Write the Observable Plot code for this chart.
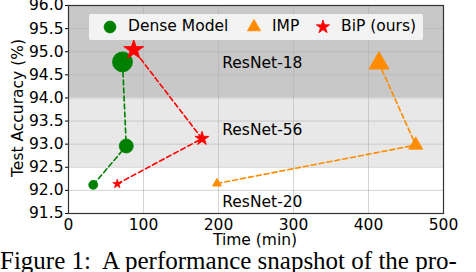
<!DOCTYPE html>
<html>
<head>
<meta charset="utf-8">
<script src="https://cdn.jsdelivr.net/npm/d3@7"></script>
<script src="https://cdn.jsdelivr.net/npm/@observablehq/plot@0.6"></script>
<style>
  html, body { margin: 0; padding: 0; background: #fff; }
  #wrap { position: relative; width: 476px; height: 272px; overflow: hidden; }
  #legend { position: absolute; left: 89px; top: 14px; width: 334px; height: 26px;
    background: rgba(245,245,245,0.95); border-radius: 2px;
    font: 15.5px "DejaVu Sans", sans-serif; color: #000; }
  #legend .item { position: absolute; top: 3px; white-space: nowrap; }
  #legend svg { position: absolute; top: 0; left: 0; }
  #caption { position: absolute; left: 0; top: 247px; line-height: 1; font: 25px "Liberation Serif", "Times New Roman", serif; white-space: nowrap; color: #000; }
</style>
</head>
<body>
<div id="wrap"></div>
<script>
// Data
const models = ["Dense Model", "IMP", "BiP (ours)"];
const archs = ["ResNet-20", "ResNet-56", "ResNet-18"];
const denseTime = [33, 77, 72];
const denseAcc = [92.12, 92.96, 94.78];
const impTime = [198, 463, 414];
const impAcc = [92.15, 92.98, 94.75];
const bipTime = [65, 178, 87];
const bipAcc = [92.14, 93.12, 95.04];
// Architecture accuracy bands
const bandLow = [91.5, 92.5, 94.0];
const bandHigh = [92.5, 94.0, 96.0];
const bandLabelY = [91.75, 93.3, 94.75];
const xTicks = [0, 100, 200, 300, 400, 500];
const yTicks = [91.5, 92.0, 92.5, 93.0, 93.5, 94.0, 94.5, 95.0, 95.5, 96.0];

const colors = {"Dense Model": "#008000", "IMP": "#ff8c00", "BiP (ours)": "#ff0000"};
const symbols = {"Dense Model": "circle", "IMP": "triangle", "BiP (ours)": "star"};
const symScale = {"Dense Model": 1, "IMP": 0.75, "BiP (ours)": 0.63};
const radius = {"ResNet-20": 4.5, "ResNet-56": 7, "ResNet-18": 10};
const bandFill = {"ResNet-20": "#ffffff", "ResNet-56": "#e8e8e8", "ResNet-18": "#c8c8c8"};

const series = [[denseTime, denseAcc], [impTime, impAcc], [bipTime, bipAcc]];
const points = [];
models.forEach((m, i) => archs.forEach((a, j) => points.push({model: m, arch: a, time: series[i][0][j], acc: series[i][1][j]})));
const bands = archs.map((a, j) => ({arch: a, lo: bandLow[j], hi: bandHigh[j], ly: bandLabelY[j]}));

const chart = Plot.plot({
  width: 476, height: 246,
  marginLeft: 68, marginRight: 33, marginTop: 5, marginBottom: 33,
  style: {fontFamily: "'DejaVu Sans', sans-serif", fontSize: "15.5px", color: "#000", background: "transparent"},
  x: {domain: [0, 500], ticks: xTicks, tickSize: 0, tickPadding: 5, label: null, tickFormat: d3.format("d")},
  y: {domain: [91.5, 96], ticks: yTicks, tickSize: 3, tickPadding: 2, label: null, tickFormat: d3.format(".1f")},
  r: {type: "identity"},
  marks: [
    Plot.rect(bands, {x1: 0, x2: 500, y1: "lo", y2: "hi", fill: d => bandFill[d.arch]}),
    Plot.gridX(xTicks, {stroke: "#b0b0b0", strokeOpacity: 0.55, strokeWidth: 1}),
    Plot.gridY(yTicks, {stroke: "#b0b0b0", strokeOpacity: 0.55, strokeWidth: 1}),
    Plot.text(bands, {x: 205, y: "ly", text: "arch", textAnchor: "start", fontSize: 15.5}),
    ...models.map(m => Plot.line(points.filter(p => p.model === m), {x: "time", y: "acc", stroke: colors[m], strokeWidth: 1.6, strokeDasharray: "5,3"})),
    ...models.map(m => Plot.dot(points.filter(p => p.model === m), {x: "time", y: "acc", symbol: symbols[m], r: d => radius[d.arch] * symScale[m], fill: colors[m], stroke: colors[m], strokeWidth: 0.8})),
    Plot.axisX({ticks: xTicks, tickSize: 0, tickPadding: 5, tickFormat: d3.format("d"), label: null}),
    Plot.axisY({ticks: yTicks, tickSize: 3, tickPadding: 2, tickFormat: d3.format(".1f"), label: null}),
    Plot.frame({stroke: "#333", strokeWidth: 1.2})
  ]
});

const wrap = document.getElementById("wrap");
chart.style.position = "absolute";
chart.style.left = "0px";
chart.style.top = "0px";
wrap.appendChild(chart);

// Axis labels
const ylab = document.createElement("div");
ylab.textContent = "Test Accuracy (%)";
Object.assign(ylab.style, {position: "absolute", left: "18px", top: "108px", lineHeight: "1", transform: "translate(-50%,-50%) rotate(-90deg)", font: '15.5px "DejaVu Sans", sans-serif', whiteSpace: "nowrap"});
wrap.appendChild(ylab);
const xlab = document.createElement("div");
xlab.textContent = "Time (min)";
Object.assign(xlab.style, {position: "absolute", left: "255px", top: "241px", transform: "translate(-50%,-50%)", font: '15.5px/1 "DejaVu Sans", sans-serif', whiteSpace: "nowrap"});
wrap.appendChild(xlab);

// Legend
const legend = document.createElement("div");
legend.id = "legend";
const legendX = [21, 165, 234];
const sym = {"circle": d3.symbolCircle, "triangle": d3.symbolTriangle, "star": d3.symbolStar};
const lsvg = d3.create("svg").attr("width", 334).attr("height", 26);
models.forEach((m, i) => {
  const size = m === "Dense Model" ? 110 : m === "IMP" ? 75 : 55;
  lsvg.append("path").attr("d", d3.symbol(sym[symbols[m]], size)()).attr("transform", `translate(${legendX[i]},13)`).attr("fill", colors[m]).attr("stroke", colors[m]).attr("stroke-width", 0.8);
  const t = document.createElement("span");
  t.className = "item";
  t.textContent = m;
  t.style.left = (legendX[i] + 18) + "px";
  legend.appendChild(t);
});
legend.appendChild(lsvg.node());
wrap.appendChild(legend);

const cap = document.createElement("div");
cap.id = "caption";
cap.textContent = "Figure 1:\u00a0 A performance snapshot of the pro-";
wrap.appendChild(cap);
</script>
</body>
</html>
